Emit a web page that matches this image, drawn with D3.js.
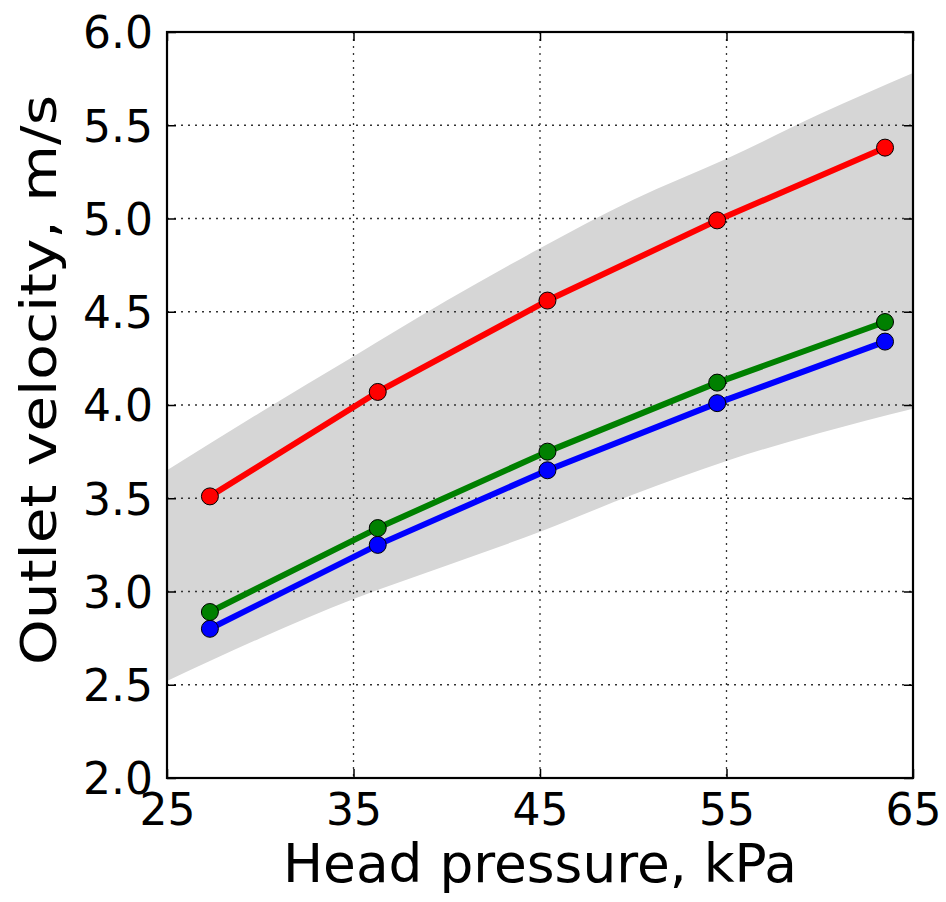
<!DOCTYPE html>
<html>
<head>
<meta charset="utf-8">
<script src="https://cdn.jsdelivr.net/npm/d3@7"></script>
<style>
  html, body { margin: 0; padding: 0; background: #fff; }
  svg { display: block; font-family: "DejaVu Sans", sans-serif; }
  .tick-label { font-size: 44px; fill: #000; }
  .axis-title { fill: #000; }
</style>
</head>
<body>
<svg id="chart" width="946" height="902"></svg>
<script>
// head pressure (kPa) of the measured points
const pressure = [27.3, 36.3, 45.4, 54.5, 63.5];
// outlet velocity (m/s) per series
const redVelocity = [3.51, 4.07, 4.56, 4.99, 5.38];
const greenVelocity = [2.89, 3.34, 3.75, 4.12, 4.445];
const blueVelocity = [2.80, 3.25, 3.65, 4.01, 4.34];
// shaded band
const bandPressure = [25, 30, 35, 40, 45, 50, 55, 60, 65];
const bandLow = [2.52, 2.75, 2.96, 3.14, 3.32, 3.52, 3.70, 3.85, 3.98];
const bandHigh = [3.65, 3.96, 4.26, 4.56, 4.84, 5.10, 5.32, 5.56, 5.78];
// axis ticks
const xTicks = [25, 35, 45, 55, 65];
const yTicks = [2.0, 2.5, 3.0, 3.5, 4.0, 4.5, 5.0, 5.5, 6.0];

const margin = { top: 32, right: 33, bottom: 124, left: 167 };
const width = 946, height = 902;
const innerWidth = width - margin.left - margin.right;
const innerHeight = height - margin.top - margin.bottom;

const svg = d3.select('#chart');
const grp = svg.append('g')
  .attr('transform', 'translate(' + margin.left + ',' + margin.top + ')');

const xScale = d3.scaleLinear().domain([25, 65]).range([0, innerWidth]);
const yScale = d3.scaleLinear().domain([2, 6]).range([innerHeight, 0]);

grp.append('clipPath').attr('id', 'plot-clip')
  .append('rect').attr('width', innerWidth).attr('height', innerHeight);

const plot = grp.append('g').attr('clip-path', 'url(#plot-clip)');

// band
const band = d3.area()
  .x((d, i) => xScale(bandPressure[i]))
  .y0((d, i) => yScale(bandLow[i]))
  .y1((d, i) => yScale(bandHigh[i]))
  .curve(d3.curveMonotoneX);

plot.append('path')
  .datum(bandPressure)
  .attr('d', band)
  .style('fill', '#d6d6d6')
  .style('stroke', 'none');

// grid
plot.append('g')
  .selectAll('line')
  .data(xTicks)
  .enter()
  .append('line')
  .attr('x1', (d) => xScale(d))
  .attr('x2', (d) => xScale(d))
  .attr('y1', 0)
  .attr('y2', innerHeight)
  .style('stroke', '#333')
  .style('stroke-width', 1.3)
  .style('stroke-dasharray', '2,5');

plot.append('g')
  .selectAll('line')
  .data(yTicks)
  .enter()
  .append('line')
  .attr('x1', 0)
  .attr('x2', innerWidth)
  .attr('y1', (d) => yScale(d))
  .attr('y2', (d) => yScale(d))
  .style('stroke', '#333')
  .style('stroke-width', 1.3)
  .style('stroke-dasharray', '2,5');

// series
const series = [
  { values: blueVelocity, color: '#0000ff' },
  { values: greenVelocity, color: '#008000' },
  { values: redVelocity, color: '#ff0000' },
];

const line = d3.line()
  .x((d, i) => xScale(pressure[i]))
  .y((d) => yScale(d));

series.forEach((s) => {
  plot.append('path')
    .datum(s.values)
    .attr('d', line)
    .style('fill', 'none')
    .style('stroke', s.color)
    .style('stroke-width', 6)
    .style('stroke-linejoin', 'round');

  plot.selectAll(null)
    .data(s.values)
    .enter()
    .append('circle')
    .attr('cx', (d, i) => xScale(pressure[i]))
    .attr('cy', (d) => yScale(d))
    .attr('r', 8.5)
    .style('fill', s.color)
    .style('stroke', '#000')
    .style('stroke-width', 1);
});

// axes, matplotlib classic style: ticks inside on all sides
const tickLen = 9;

const xAxis = grp.append('g')
  .attr('transform', 'translate(0,' + innerHeight + ')')
  .call(d3.axisBottom(xScale).tickValues(xTicks).tickSizeInner(-tickLen).tickSizeOuter(0).tickPadding(16));

const xTop = grp.append('g')
  .call(d3.axisTop(xScale).tickValues(xTicks).tickSizeInner(-tickLen).tickSizeOuter(0).tickFormat(''));

const yAxis = grp.append('g')
  .call(d3.axisLeft(yScale).tickValues(yTicks).tickSizeInner(-tickLen).tickSizeOuter(0).tickPadding(14)
    .tickFormat(d3.format('.1f')));

const yRight = grp.append('g')
  .attr('transform', 'translate(' + innerWidth + ',0)')
  .call(d3.axisRight(yScale).tickValues(yTicks).tickSizeInner(-tickLen).tickSizeOuter(0).tickFormat(''));

[xAxis, xTop, yAxis, yRight].forEach((a) => {
  a.select('.domain').remove();
  a.selectAll('.tick line').style('stroke', '#000').style('stroke-width', 1.5);
  a.selectAll('.tick text')
    .attr('class', 'tick-label')
    .style('font-family', '"DejaVu Sans", sans-serif')
    .style('font-size', '44px')
    .style('fill', '#000');
});

yAxis.selectAll('.tick text').attr('dy', '0.36em');

// frame
grp.append('rect')
  .attr('width', innerWidth)
  .attr('height', innerHeight)
  .style('fill', 'none')
  .style('stroke', '#000')
  .style('stroke-width', 2.2);

// titles
svg.append('text')
  .attr('class', 'axis-title')
  .attr('x', 540)
  .attr('y', 882)
  .attr('text-anchor', 'middle')
  .attr('textLength', 514)
  .attr('lengthAdjust', 'spacingAndGlyphs')
  .style('font-size', '54px')
  .text('Head pressure, kPa');

svg.append('text')
  .attr('class', 'axis-title')
  .attr('transform', 'translate(56,380) rotate(-90)')
  .attr('text-anchor', 'middle')
  .attr('textLength', 570)
  .attr('lengthAdjust', 'spacingAndGlyphs')
  .style('font-size', '50px')
  .text('Outlet velocity, m/s');
</script>
</body>
</html>
